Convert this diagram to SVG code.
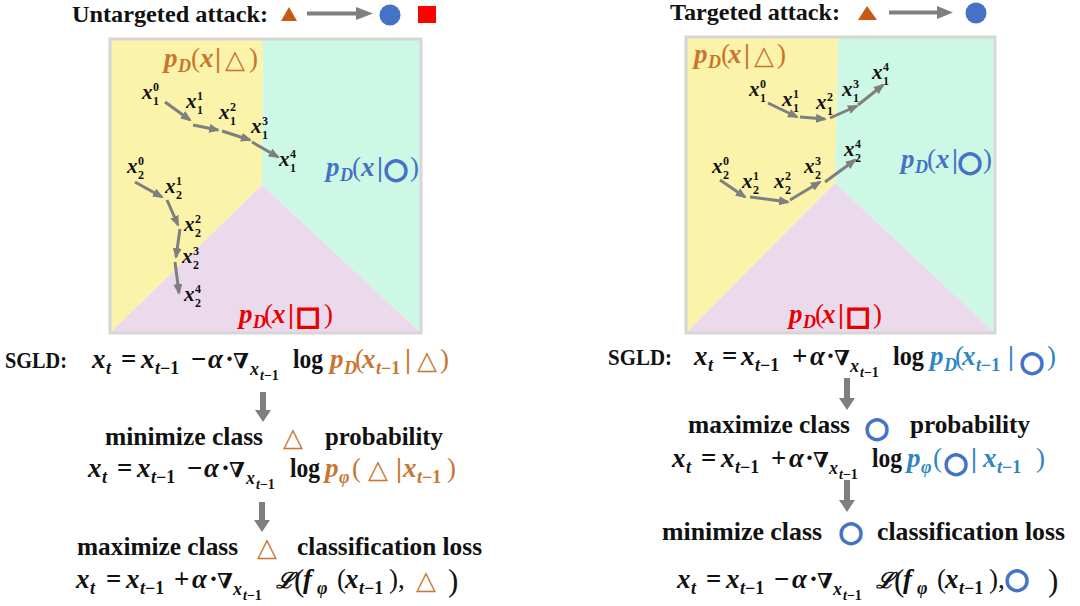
<svg xmlns="http://www.w3.org/2000/svg" width="1080" height="606" viewBox="0 0 1080 606">
<style>
.t{font-family:"Liberation Serif","DejaVu Serif",serif;font-weight:bold;fill:#111}
.f{font-family:"Liberation Serif","DejaVu Serif",serif;font-weight:bold;font-size:27px;fill:#111}
.v{font-style:italic}
.s{font-size:18px}
.ss{font-size:14px}
.n{font-weight:normal}
.nb{font-size:21px}
.sym{font-family:"DejaVu Sans",sans-serif;font-weight:normal;font-style:normal}
.or{fill:#C8752F}
.bl{fill:#2E86C1}
.lb{fill:#4472C4}
.rd{fill:#E60000}
.ring{fill:#4472C4;stroke:#4472C4;stroke-width:1.8px;font-size:28px}
.sq{fill:#E60000;stroke:#E60000;stroke-width:1.8px}
.lbl{font-family:"Liberation Serif","DejaVu Serif",serif;font-weight:bold;font-size:21px;fill:#111}
.lbl .v{font-style:italic}
.lbl .sp{font-size:12px;font-style:normal}
.traj line{stroke:#7F7F7F;stroke-width:3;marker-end:url(#ah)}
.big{fill:#7F7F7F}
.border{fill:none;stroke:#D6D6D6;stroke-width:3}
</style>
<defs>
<marker id="ah" markerUnits="userSpaceOnUse" markerWidth="11" markerHeight="9" refX="9" refY="4.5" orient="auto">
<path d="M0,0 L11,4.5 L0,9 z" fill="#7F7F7F"/>
</marker>
</defs>

<g id="title-left">
<text class="t" x="72" y="22" font-size="24" textLength="196" lengthAdjust="spacingAndGlyphs">Untargeted attack:</text>
<polygon points="281,21 289,7 297,21" fill="#C55A11"/>
<circle cx="390" cy="15" r="10.5" fill="#4472C4"/>
<rect x="418" y="6" width="18" height="17" fill="#FF0000"/>
</g>
<g id="title-right">
<text class="t" x="670" y="20" font-size="24" textLength="170" lengthAdjust="spacingAndGlyphs">Targeted attack:</text>
<polygon points="858,20 867,6 877,20" fill="#C55A11"/>
<circle cx="976" cy="13" r="10.5" fill="#4472C4"/>
</g>

<g id="panel-left">
<polygon points="110,39 263,39 262,185 110,333" fill="#FAF3A9"/>
<polygon points="263,39 421,39 421,333 262,185" fill="#CDF8E5"/>
<polygon points="262,185 421,333 110,333" fill="#EBDAEC"/>
<rect class="border" x="110" y="39" width="311" height="294"/>
</g>
<g id="panel-right">
<polygon points="686,37 838,37 835,183 686,333" fill="#FAF3A9"/>
<polygon points="838,37 995,37 995,333 835,183" fill="#CDF8E5"/>
<polygon points="835,183 995,333 686,333" fill="#EBDAEC"/>
<rect class="border" x="686" y="37" width="309" height="296"/>
</g>

<g id="labels-left">
<text class="f or">
<tspan class="v" x="164" y="67">p</tspan><tspan class="v s" x="178" y="72">D</tspan><tspan class="n" x="191" y="67">(</tspan><tspan class="v" x="200" y="67">x</tspan><tspan x="215" y="67">|</tspan><tspan class="sym" x="235" y="68" text-anchor="middle" font-size="26">△</tspan><tspan class="n" x="249" y="67">)</tspan>
</text>
<text class="f lb">
<tspan class="v" x="326" y="176">p</tspan><tspan class="v s" x="340" y="181">D</tspan><tspan class="n" x="352" y="176">(</tspan><tspan class="v" x="361" y="176">x</tspan><tspan x="377" y="176">|</tspan><tspan class="sym ring" x="396" y="178" text-anchor="middle">○</tspan><tspan class="n" x="410" y="176">)</tspan>
</text>
<text class="f rd">
<tspan class="v" x="239" y="323">p</tspan><tspan class="v s" x="253" y="328">D</tspan><tspan class="n" x="264" y="323">(</tspan><tspan class="v" x="272" y="323">x</tspan><tspan x="288" y="323">|</tspan><tspan class="sym sq" x="308" y="325" text-anchor="middle" font-size="26">□</tspan><tspan class="n" x="324" y="323">)</tspan>
</text>
</g>
<g id="labels-right">
<text class="f or">
<tspan class="v" x="694" y="63">p</tspan><tspan class="v s" x="708" y="68">D</tspan><tspan class="n" x="721" y="63">(</tspan><tspan class="v" x="728" y="63">x</tspan><tspan x="744" y="63">|</tspan><tspan class="sym" x="764" y="64" text-anchor="middle" font-size="26">△</tspan><tspan class="n" x="777" y="63">)</tspan>
</text>
<text class="f lb">
<tspan class="v" x="901" y="168">p</tspan><tspan class="v s" x="915" y="173">D</tspan><tspan class="n" x="927" y="168">(</tspan><tspan class="v" x="936" y="168">x</tspan><tspan x="952" y="168">|</tspan><tspan class="sym ring" x="970" y="171" text-anchor="middle">○</tspan><tspan class="n" x="983" y="168">)</tspan>
</text>
<text class="f rd">
<tspan class="v" x="789" y="323">p</tspan><tspan class="v s" x="803" y="328">D</tspan><tspan class="n" x="815" y="323">(</tspan><tspan class="v" x="822" y="323">x</tspan><tspan x="838" y="323">|</tspan><tspan class="sym sq" x="858" y="325" text-anchor="middle" font-size="26">□</tspan><tspan class="n" x="873" y="323">)</tspan>
</text>
</g>

<g id="points-left">
<text class="lbl"><tspan class="v" x="142" y="99">x</tspan><tspan class="sp" x="153" y="91">0</tspan><tspan class="sp" x="153" y="105">1</tspan></text>
<text class="lbl"><tspan class="v" x="186" y="108">x</tspan><tspan class="sp" x="197" y="100">1</tspan><tspan class="sp" x="197" y="114">1</tspan></text>
<text class="lbl"><tspan class="v" x="219" y="119">x</tspan><tspan class="sp" x="230" y="111">2</tspan><tspan class="sp" x="230" y="125">1</tspan></text>
<text class="lbl"><tspan class="v" x="251" y="133">x</tspan><tspan class="sp" x="262" y="125">3</tspan><tspan class="sp" x="262" y="139">1</tspan></text>
<text class="lbl"><tspan class="v" x="279" y="166">x</tspan><tspan class="sp" x="290" y="158">4</tspan><tspan class="sp" x="290" y="172">1</tspan></text>
<text class="lbl"><tspan class="v" x="127" y="173">x</tspan><tspan class="sp" x="138" y="165">0</tspan><tspan class="sp" x="138" y="179">2</tspan></text>
<text class="lbl"><tspan class="v" x="165" y="193">x</tspan><tspan class="sp" x="176" y="185">1</tspan><tspan class="sp" x="176" y="199">2</tspan></text>
<text class="lbl"><tspan class="v" x="184" y="231">x</tspan><tspan class="sp" x="195" y="223">2</tspan><tspan class="sp" x="195" y="237">2</tspan></text>
<text class="lbl"><tspan class="v" x="182" y="263">x</tspan><tspan class="sp" x="193" y="255">3</tspan><tspan class="sp" x="193" y="269">2</tspan></text>
<text class="lbl"><tspan class="v" x="184" y="301">x</tspan><tspan class="sp" x="195" y="293">4</tspan><tspan class="sp" x="195" y="307">2</tspan></text>
</g>
<g id="points-right">
<text class="lbl"><tspan class="v" x="749" y="96">x</tspan><tspan class="sp" x="760" y="88">0</tspan><tspan class="sp" x="760" y="102">1</tspan></text>
<text class="lbl"><tspan class="v" x="782" y="106">x</tspan><tspan class="sp" x="793" y="98">1</tspan><tspan class="sp" x="793" y="112">1</tspan></text>
<text class="lbl"><tspan class="v" x="816" y="109">x</tspan><tspan class="sp" x="827" y="101">2</tspan><tspan class="sp" x="827" y="115">1</tspan></text>
<text class="lbl"><tspan class="v" x="842" y="96">x</tspan><tspan class="sp" x="853" y="88">3</tspan><tspan class="sp" x="853" y="102">1</tspan></text>
<text class="lbl"><tspan class="v" x="872" y="79">x</tspan><tspan class="sp" x="883" y="71">4</tspan><tspan class="sp" x="883" y="85">1</tspan></text>
<text class="lbl"><tspan class="v" x="712" y="173">x</tspan><tspan class="sp" x="723" y="165">0</tspan><tspan class="sp" x="723" y="179">2</tspan></text>
<text class="lbl"><tspan class="v" x="742" y="188">x</tspan><tspan class="sp" x="753" y="180">1</tspan><tspan class="sp" x="753" y="194">2</tspan></text>
<text class="lbl"><tspan class="v" x="774" y="188">x</tspan><tspan class="sp" x="785" y="180">2</tspan><tspan class="sp" x="785" y="194">2</tspan></text>
<text class="lbl"><tspan class="v" x="804" y="173">x</tspan><tspan class="sp" x="815" y="165">3</tspan><tspan class="sp" x="815" y="179">2</tspan></text>
<text class="lbl"><tspan class="v" x="844" y="156">x</tspan><tspan class="sp" x="855" y="148">4</tspan><tspan class="sp" x="855" y="162">2</tspan></text>
</g>

<g id="connectors">
<g class="traj">
<line x1="165" y1="102" x2="190" y2="120"/>
<line x1="193" y1="125" x2="218" y2="130"/>
<line x1="222" y1="131" x2="250" y2="140"/>
<line x1="252" y1="142" x2="278" y2="157"/>
<line x1="135" y1="182" x2="162" y2="197"/>
<line x1="167" y1="200" x2="178" y2="225"/>
<line x1="180" y1="229" x2="176" y2="257"/>
<line x1="175" y1="262" x2="179" y2="293"/>
<line x1="768" y1="103" x2="797" y2="117"/>
<line x1="800" y1="117" x2="825" y2="119"/>
<line x1="830" y1="118" x2="857" y2="106"/>
<line x1="858" y1="105" x2="883" y2="85"/>
<line x1="720" y1="180" x2="745" y2="197"/>
<line x1="750" y1="197" x2="788" y2="202"/>
<line x1="790" y1="200" x2="820" y2="182"/>
<line x1="825" y1="182" x2="855" y2="160"/>
</g>
<line x1="307" y1="13.5" x2="358" y2="13.5" stroke="#7F7F7F" stroke-width="4"/>
<polygon points="356,7 373,13.5 356,20" fill="#7F7F7F"/>
<line x1="889" y1="12.5" x2="939" y2="12.5" stroke="#7F7F7F" stroke-width="4"/>
<polygon points="937,6 953,12.5 937,19" fill="#7F7F7F"/>
<polygon class="big" points="260,392 266,392 266,410 271,410 263,422 255,410 260,410"/>
<polygon class="big" points="259,502 265,502 265,520 270,520 262,532 254,520 259,520"/>
<polygon class="big" points="844,378 850,378 850,398 855,398 847,410 839,398 844,398"/>
<polygon class="big" points="844,480 850,480 850,500 855,500 847,512 839,500 844,500"/>
</g>

<g id="formulas-left">
<text class="t" x="5" y="368" font-size="23" textLength="62" lengthAdjust="spacingAndGlyphs">SGLD:</text>
<text class="f">
<tspan class="v" x="92" y="368">x</tspan><tspan class="v s" x="106" y="374">t</tspan><tspan x="121" y="368">=</tspan><tspan class="v" x="141" y="368">x</tspan><tspan class="s" x="155" y="374"><tspan class="v">t</tspan>−1</tspan><tspan x="191" y="368">−</tspan><tspan class="v" x="208" y="368">α</tspan><tspan x="225" y="368">·</tspan><tspan class="nb" x="233" y="368">∇</tspan><tspan class="v s" x="250" y="375">x</tspan><tspan class="ss" x="260" y="380"><tspan class="v">t</tspan>−1</tspan><tspan x="293" y="368" textLength="30" lengthAdjust="spacingAndGlyphs">log</tspan><tspan class="v or" x="330" y="368">p</tspan><tspan class="v s or" x="344" y="374">D</tspan><tspan class="n or" x="355" y="368">(</tspan><tspan class="v or" x="362" y="368">x</tspan><tspan class="s or" x="376" y="374"><tspan class="v">t</tspan>−1</tspan><tspan class="or" x="405" y="368">|</tspan><tspan class="sym or" x="427" y="369" text-anchor="middle" font-size="26">△</tspan><tspan class="n or" x="440" y="368">)</tspan>
</text>
<text class="t" font-size="26"><tspan x="105" y="445" textLength="158" lengthAdjust="spacingAndGlyphs">minimize  class</tspan><tspan class="sym or" x="293" y="446" text-anchor="middle" font-size="26">△</tspan><tspan x="325" y="445" textLength="118" lengthAdjust="spacingAndGlyphs">probability</tspan></text>
<text class="f">
<tspan class="v" x="88" y="477">x</tspan><tspan class="v s" x="102" y="483">t</tspan><tspan x="117" y="477">=</tspan><tspan class="v" x="137" y="477">x</tspan><tspan class="s" x="151" y="483"><tspan class="v">t</tspan>−1</tspan><tspan x="187" y="477">−</tspan><tspan class="v" x="204" y="477">α</tspan><tspan x="221" y="477">·</tspan><tspan class="nb" x="229" y="477">∇</tspan><tspan class="v s" x="246" y="484">x</tspan><tspan class="ss" x="256" y="489"><tspan class="v">t</tspan>−1</tspan><tspan x="290" y="477" textLength="30" lengthAdjust="spacingAndGlyphs">log</tspan><tspan class="v or" x="325" y="477">p</tspan><tspan class="v s or" x="339" y="483">φ</tspan><tspan class="n or" x="352" y="477">(</tspan><tspan class="sym or" x="378" y="478" text-anchor="middle" font-size="26">△</tspan><tspan class="or" x="396" y="477">|</tspan><tspan class="v or" x="403" y="477">x</tspan><tspan class="s or" x="417" y="483"><tspan class="v">t</tspan>−1</tspan><tspan class="n or" x="447" y="477">)</tspan>
</text>
<text class="t" font-size="26"><tspan x="77" y="555" textLength="161" lengthAdjust="spacingAndGlyphs">maximize  class</tspan><tspan class="sym or" x="267" y="556" text-anchor="middle" font-size="26">△</tspan><tspan x="297" y="555" textLength="185" lengthAdjust="spacingAndGlyphs">classification loss</tspan></text>
<text class="f">
<tspan class="v" x="76" y="588">x</tspan><tspan class="v s" x="90" y="594">t</tspan><tspan x="106" y="588">=</tspan><tspan class="v" x="126" y="588">x</tspan><tspan class="s" x="140" y="594"><tspan class="v">t</tspan>−1</tspan><tspan x="174" y="588">+</tspan><tspan class="v" x="192" y="588">α</tspan><tspan x="209" y="588">·</tspan><tspan class="nb" x="217" y="588">∇</tspan><tspan class="v s" x="233" y="595">x</tspan><tspan class="ss" x="243" y="600"><tspan class="v">t</tspan>−1</tspan><tspan class="v" x="276" y="588" font-size="22">ℒ</tspan><tspan class="n" x="294" y="591" font-size="31">(</tspan><tspan class="v" x="303" y="588">f</tspan><tspan class="v s" x="317" y="594">φ</tspan><tspan class="n" x="337" y="588">(</tspan><tspan class="v" x="345" y="588">x</tspan><tspan class="s" x="359" y="594"><tspan class="v">t</tspan>−1</tspan><tspan class="n" x="389" y="588">),</tspan><tspan class="sym or" x="426" y="589" text-anchor="middle" font-size="26">△</tspan><tspan class="n" x="448" y="591" font-size="31">)</tspan>
</text>
</g>

<g id="formulas-right">
<text class="t" x="608" y="365" font-size="23" textLength="64" lengthAdjust="spacingAndGlyphs">SGLD:</text>
<text class="f">
<tspan class="v" x="694" y="365">x</tspan><tspan class="v s" x="708" y="371">t</tspan><tspan x="722" y="365">=</tspan><tspan class="v" x="741" y="365">x</tspan><tspan class="s" x="755" y="371"><tspan class="v">t</tspan>−1</tspan><tspan x="792" y="365">+</tspan><tspan class="v" x="810" y="365">α</tspan><tspan x="826" y="365">·</tspan><tspan class="nb" x="834" y="365">∇</tspan><tspan class="v s" x="850" y="372">x</tspan><tspan class="ss" x="860" y="377"><tspan class="v">t</tspan>−1</tspan><tspan x="893" y="365" textLength="31" lengthAdjust="spacingAndGlyphs">log</tspan><tspan class="v bl" x="930" y="365">p</tspan><tspan class="v s bl" x="944" y="371">D</tspan><tspan class="n bl" x="955" y="365">(</tspan><tspan class="v bl" x="962" y="365">x</tspan><tspan class="s bl" x="976" y="371"><tspan class="v">t</tspan>−1</tspan><tspan class="bl" x="1008" y="365">|</tspan><tspan class="sym ring" x="1032" y="371" text-anchor="middle">○</tspan><tspan class="n bl" x="1047" y="365">)</tspan>
</text>
<text class="t" font-size="26"><tspan x="688" y="433" textLength="162" lengthAdjust="spacingAndGlyphs">maximize  class</tspan><tspan class="sym ring" x="877" y="437" text-anchor="middle">○</tspan><tspan x="910" y="433" textLength="120" lengthAdjust="spacingAndGlyphs">probability</tspan></text>
<text class="f">
<tspan class="v" x="672" y="467">x</tspan><tspan class="v s" x="686" y="473">t</tspan><tspan x="701" y="467">=</tspan><tspan class="v" x="721" y="467">x</tspan><tspan class="s" x="735" y="473"><tspan class="v">t</tspan>−1</tspan><tspan x="771" y="467">+</tspan><tspan class="v" x="789" y="467">α</tspan><tspan x="805" y="467">·</tspan><tspan class="nb" x="813" y="467">∇</tspan><tspan class="v s" x="829" y="474">x</tspan><tspan class="ss" x="839" y="479"><tspan class="v">t</tspan>−1</tspan><tspan x="872" y="467" textLength="30" lengthAdjust="spacingAndGlyphs">log</tspan><tspan class="v bl" x="907" y="467">p</tspan><tspan class="v s bl" x="921" y="473">φ</tspan><tspan class="n bl" x="933" y="467">(</tspan><tspan class="sym ring" x="956" y="472" text-anchor="middle">○</tspan><tspan class="bl" x="971" y="467">|</tspan><tspan class="v bl" x="983" y="467">x</tspan><tspan class="s bl" x="997" y="473"><tspan class="v">t</tspan>−1</tspan><tspan class="n bl" x="1036" y="467">)</tspan>
</text>
<text class="t" font-size="26"><tspan x="662" y="540" textLength="160" lengthAdjust="spacingAndGlyphs">minimize  class</tspan><tspan class="sym ring" x="851" y="541" text-anchor="middle">○</tspan><tspan x="877" y="540" textLength="188" lengthAdjust="spacingAndGlyphs">classification loss</tspan></text>
<text class="f">
<tspan class="v" x="677" y="588">x</tspan><tspan class="v s" x="691" y="594">t</tspan><tspan x="706" y="588">=</tspan><tspan class="v" x="726" y="588">x</tspan><tspan class="s" x="740" y="594"><tspan class="v">t</tspan>−1</tspan><tspan x="774" y="588">−</tspan><tspan class="v" x="792" y="588">α</tspan><tspan x="809" y="588">·</tspan><tspan class="nb" x="817" y="588">∇</tspan><tspan class="v s" x="833" y="595">x</tspan><tspan class="ss" x="843" y="600"><tspan class="v">t</tspan>−1</tspan><tspan class="v" x="876" y="588" font-size="22">ℒ</tspan><tspan class="n" x="894" y="591" font-size="31">(</tspan><tspan class="v" x="903" y="588">f</tspan><tspan class="v s" x="917" y="594">φ</tspan><tspan class="n" x="937" y="588">(</tspan><tspan class="v" x="945" y="588">x</tspan><tspan class="s" x="959" y="594"><tspan class="v">t</tspan>−1</tspan><tspan class="n" x="989" y="588">),</tspan><tspan class="sym ring" x="1017" y="588" text-anchor="middle">○</tspan><tspan class="n" x="1048" y="591" font-size="31">)</tspan>
</text>
</g>
</svg>
